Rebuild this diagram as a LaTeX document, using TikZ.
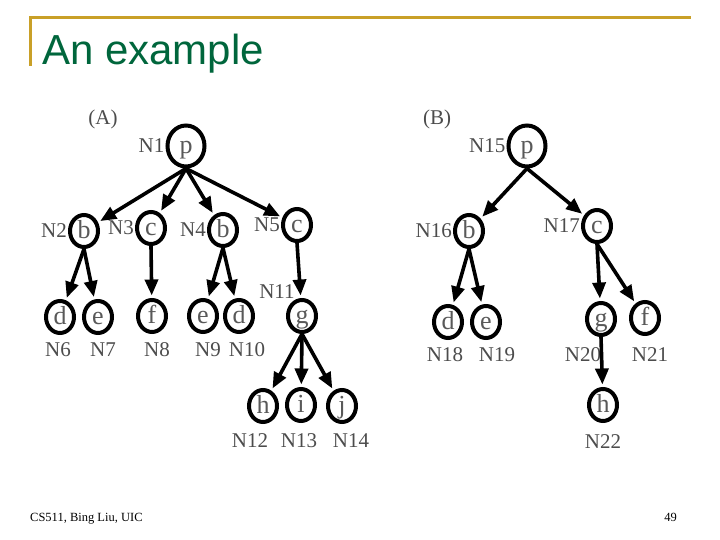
\documentclass[tikz,border=0pt]{standalone}
\usepackage{fontspec}
\setmainfont{Liberation Serif}
\newfontfamily\headfont{Liberation Sans}
\usetikzlibrary{arrows.meta,shapes.geometric,positioning}
\definecolor{slidegold}{RGB}{201,160,40}
\definecolor{slidegreen}{RGB}{0,102,60}

\begin{document}
\begin{tikzpicture}[x=1pt, y=-1pt,
  item/.style={ellipse, draw=black, line width=4pt, minimum width=28pt, minimum height=32pt,
               inner sep=0pt, text height=16pt, text depth=1pt,
               font=\fontsize{26}{26}\selectfont, text=black!65},
  root/.style={item, minimum width=37pt, minimum height=41pt},
  lab/.style={inner sep=0pt, font=\fontsize{21}{21}\selectfont, text=black!70},
  edge/.style={line width=3.6pt, shorten >=2.5pt, -{Triangle[width=13pt,length=16pt]}}
]
  \useasboundingbox (0,0) rectangle (720,540);

  % ===== Slide frame and title =====
  \draw[slidegold, line width=3pt] (30,66) -- (30,18) -- (691,18);
  \node[font=\headfont\fontsize{42}{42}\selectfont, text=slidegreen, anchor=base west, inner sep=0pt]
    (title) at (42,65) {An example};

  % ===== Tree (A) =====
  \node[lab] (ta) at (103,119) {(A)};
  \node[root] (n1) at (186,146) {p};
  \node[item] (n2) at (84,231) {b};
  \node[item] (n3) at (151,228) {c};
  \node[item] (n4) at (223,230) {b};
  \node[item] (n5) at (297,225) {c};
  \node[item] (n6) at (60,317) {d};
  \node[item] (n7) at (98,317) {e};
  \node[item] (n8) at (152,316) {f};
  \node[item] (n9) at (203,316) {e};
  \node[item] (n10) at (239,316) {d};
  \node[item] (n11) at (302,316) {g};
  \node[item] (n12) at (263,406) {h};
  \node[item] (n13) at (301,405) {i};
  \node[item] (n14) at (342,406) {j};

  % labels of tree (A)
  \node[lab, left=1pt of n1] (l1) {N1};
  \node[lab, left=1pt of n2] (l2) {N2};
  \node[lab, left=1pt of n3] (l3) {N3};
  \node[lab, left=1pt of n4] (l4) {N4};
  \node[lab, left=1pt of n5] (l5) {N5};
  \node[lab] (l6) at (58,350) {N6};
  \node[lab] (l7) at (103,350) {N7};
  \node[lab] (l8) at (157,350) {N8};
  \node[lab] (l9) at (208,350) {N9};
  \node[lab] (l10) at (247,350) {N10};
  \node[lab] (l11) at (277,292) {N11};
  \node[lab] (l12) at (250,441) {N12};
  \node[lab] (l13) at (299,441) {N13};
  \node[lab] (l14) at (351,441) {N14};

  % ===== Tree (B) =====
  \node[lab] (tb) at (437,119) {(B)};
  \node[root] (n15) at (527,146) {p};
  \node[item] (n16) at (469,231) {b};
  \node[item] (n17) at (597,226) {c};
  \node[item] (n18) at (448,322) {d};
  \node[item] (n19) at (486,322) {e};
  \node[item] (n20) at (601,319) {g};
  \node[item] (n21) at (645,318) {f};
  \node[item] (n22) at (603,405) {h};

  % labels of tree (B)
  \node[lab, left=1pt of n15] (l15) {N15};
  \node[lab, left=1pt of n16] (l16) {N16};
  \node[lab, left=1pt of n17] (l17) {N17};
  \node[lab] (l18) at (445,355) {N18};
  \node[lab] (l19) at (497,355) {N19};
  \node[lab] (l20) at (583,355) {N20};
  \node[lab] (l21) at (650,355) {N21};
  \node[lab] (l22) at (603,442) {N22};

  % ===== Edges =====
  \foreach \a/\b in {n1/n2, n1/n3, n1/n4, n1/n5, n2/n6, n2/n7, n3/n8, n4/n9, n4/n10,
                     n5/n11, n11/n12, n11/n13, n11/n14,
                     n15/n16, n15/n17, n16/n18, n16/n19, n17/n20, n17/n21, n20/n22}
    \draw[edge] (\a.south) -- (\b);

  % ===== Footer =====
  \node[font=\fontsize{12.5}{12.5}\selectfont, anchor=base west, inner sep=0pt] (foot) at (30,521) {CS511, Bing Liu, UIC};
  \node[font=\fontsize{12.5}{12.5}\selectfont, anchor=base east, inner sep=0pt] (page) at (677,521) {49};
\end{tikzpicture}
\end{document}
